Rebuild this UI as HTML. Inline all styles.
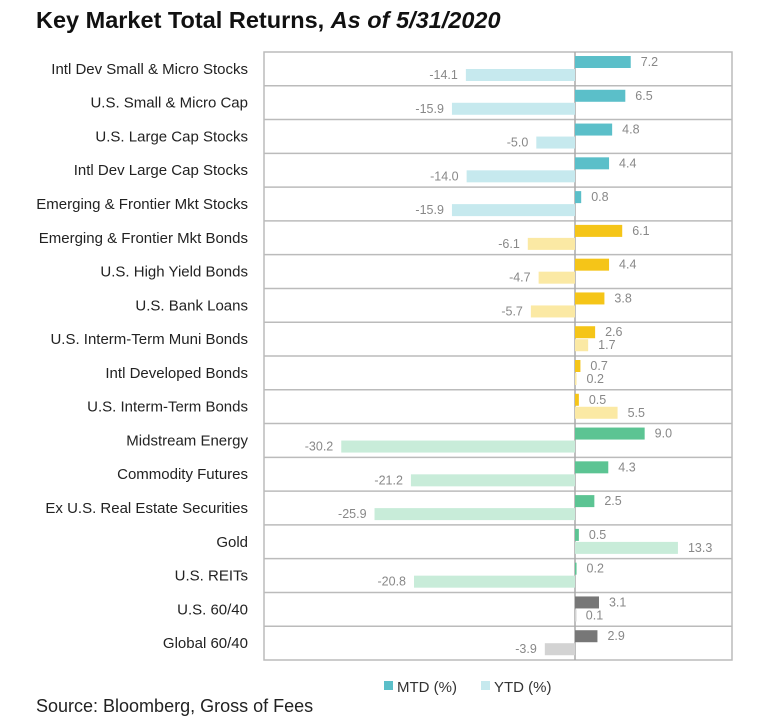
<!DOCTYPE html>
<html><head><meta charset="utf-8"><style>
body{margin:0;background:#fff;font-family:"Liberation Sans",sans-serif}
#wrap{position:relative;width:770px;height:728px;overflow:hidden}
#title{position:absolute;left:36px;top:7px;font-size:23.5px;font-weight:bold;color:#111}
#src{position:absolute;left:36px;top:696px;font-size:18px;color:#222}
</style></head><body>
<div id="wrap">
<div id="title">Key Market Total Returns, <i>As of 5/31/2020</i></div>
<svg id="svg" width="770" height="728" style="position:absolute;left:0;top:0"></svg>
<div id="src">Source: Bloomberg, Gross of Fees</div>
</div>
<script>
const categories=["Intl Dev Small & Micro Stocks","U.S. Small & Micro Cap","U.S. Large Cap Stocks","Intl Dev Large Cap Stocks","Emerging & Frontier Mkt Stocks","Emerging & Frontier Mkt Bonds","U.S. High Yield Bonds","U.S. Bank Loans","U.S. Interm-Term Muni Bonds","Intl Developed Bonds","U.S. Interm-Term Bonds","Midstream Energy","Commodity Futures","Ex U.S. Real Estate Securities","Gold","U.S. REITs","U.S. 60/40","Global 60/40"];
const mtd=[7.2,6.5,4.8,4.4,0.8,6.1,4.4,3.8,2.6,0.7,0.5,9.0,4.3,2.5,0.5,0.2,3.1,2.9];
const ytd=[-14.1,-15.9,-5.0,-14.0,-15.9,-6.1,-4.7,-5.7,1.7,0.2,5.5,-30.2,-21.2,-25.9,13.3,-20.8,0.1,-3.9];
const groups=[0,0,0,0,0,1,1,1,1,1,1,2,2,2,2,2,3,3];
const mtdColors=["#5bbfc9","#f5c518","#5cc493","#777777"];
const ytdColors=["#c6e9ee","#fbe9a4","#c8ecd9","#d3d3d3"];
const svg=document.getElementById('svg');const NS="http://www.w3.org/2000/svg";
const L=264,R=732,T=52,B=660,X0=575,K=7.74;
const rowH=(B-T)/categories.length;
const x=v=>X0+v*K;
function mk(t,a,txt){const e=document.createElementNS(NS,t);for(const k in a)e.setAttribute(k,a[k]);if(txt!==undefined)e.textContent=txt;svg.appendChild(e);return e;}
const box=mk('rect',{x:L,y:T,width:R-L,height:B-T,fill:'none',stroke:'#bbb','stroke-width':1.5});


for(let i=1;i<categories.length;i++){const l=mk('line',{x1:L,x2:R,y1:T+i*rowH,y2:T+i*rowH,stroke:'#bbb','stroke-width':1.5});

}
const z=mk('line',{x1:X0,x2:X0,y1:T,y2:B,stroke:'#aaa','stroke-width':1.5});


categories.forEach((c,i)=>{
 const top=T+i*rowH;
 const lb=mk('text',{x:248,y:top+rowH/2+5,'text-anchor':'end','font-size':15,fill:'#222'},c);
 
 
 [[mtd[i],mtdColors[groups[i]],4,'mtd'],[ytd[i],ytdColors[groups[i]],17,'ytd']].forEach(([v,col,off,s])=>{
  const x1=Math.min(x(0),x(v)),w=Math.max(Math.abs(x(v)-x(0)),1.5);
  const r=mk('rect',{x:x1,y:top+off,width:w,height:12,fill:col});
  
  
  const tx=v>=0?x(v)+10:x(v)-8;
  const t=mk('text',{x:tx,y:top+off+10,'text-anchor':v>=0?'start':'end','font-size':12.5,fill:'#888'},v.toFixed(1));
  
  
 });
});
const legend=[["MTD (%)","#5bbfc9",384],["YTD (%)","#c6e9ee",481]];
legend.forEach(([n,c,lx])=>{
 const r=mk('rect',{x:lx,y:681,width:9,height:9,fill:c});
 
 
 const t=mk('text',{x:lx+13,y:692,'font-size':15,fill:'#333'},n);
 
 
});
</script>
</body></html>
